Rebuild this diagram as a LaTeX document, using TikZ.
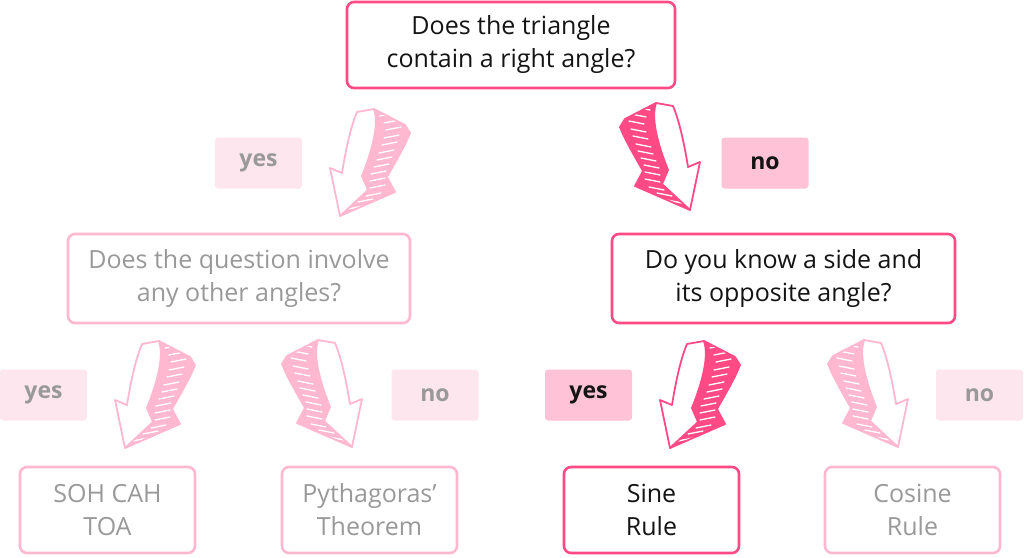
\documentclass[tikz,border=0pt]{standalone}
\usepackage{fontspec}
\setmainfont{Open Sans}
\definecolor{strongpink}{HTML}{FF4A85}
\definecolor{softpink}{HTML}{FFB8CF}
\definecolor{tagpink}{HTML}{FFC2D6}
\definecolor{palepink}{HTML}{FEE6EE}
\definecolor{greytext}{HTML}{999999}
\definecolor{darktext}{HTML}{141414}
\tikzset{
  qbox/.style={draw=strongpink, line width=2.6pt, rounded corners=7pt, fill=white, align=center, text=darktext, font=\fontsize{25}{33}\selectfont},
  qboxsoft/.style={qbox, draw=softpink, text=greytext},
  tagbox/.style={fill=tagpink, rounded corners=3pt, minimum width=87pt, minimum height=51pt, text=darktext, font=\fontsize{23}{26}\selectfont\bfseries},
  tagsoft/.style={tagbox, fill=palepink, text=greytext},
  pics/bigarrow/.style={code={
    \fill[#1] (0,0) -- (55,-24) -- (47,-39) .. controls (56,-55) and (65,-70) .. (70,-83) -- (65,-91) -- (34,-107) .. controls (40,-90) and (30,-60) .. (22,-40) -- (28,-26) -- cycle;
    \begin{scope}
      \clip (0,0) -- (55,-24) -- (47,-39) .. controls (56,-55) and (65,-70) .. (70,-83) -- (65,-91) -- (34,-107) .. controls (40,-90) and (30,-60) .. (22,-40) -- (28,-26) -- cycle;
      \foreach \x/\y in {40/-100, 44/-93, 46/-86, 44/-78, 42/-71, 39/-63, 37/-56, 34/-49, 31/-42, 30/-35, 30/-28, 26/-20, 18/-14, 8/-7}
        \draw[white, line width=1.3pt, line cap=round] (\x,\y) -- ++(15,-3);
    \end{scope}
    \draw[#1, line width=1.8pt, line join=round] (0,0) -- (55,-24) -- (47,-39) .. controls (56,-55) and (65,-70) .. (70,-83) -- (65,-91) -- (34,-107);
    \draw[#1, line width=1.8pt, line join=round, fill=white] (0,0) -- (-10,-48) -- (2,-43) .. controls (6,-68) and (11,-90) .. (17,-104) -- (34,-107) .. controls (40,-90) and (30,-60) .. (22,-40) -- (28,-26) -- cycle;
  }}
}
\begin{document}
\begin{tikzpicture}[x=1pt,y=-1pt]
\useasboundingbox (0,0) rectangle (1024,557);
\node[qbox, minimum width=328pt, minimum height=86pt] (q1) at (511,45) {Does the triangle\\contain a right angle?};
\node[qboxsoft, minimum width=342pt, minimum height=89pt] (q2) at (239,278.5) {Does the question involve\\any other angles?};
\node[qbox, minimum width=343pt, minimum height=89pt] (q3) at (783.5,278.5) {Do you know a side and\\its opposite angle?};
\node[qboxsoft, minimum width=175pt, minimum height=86pt] (r1) at (107.5,510) {SOH CAH\\TOA};
\node[qboxsoft, minimum width=175pt, minimum height=86pt] (r2) at (369.5,510) {Pythagoras'\\Theorem};
\node[qbox, minimum width=175pt, minimum height=86pt] (r3) at (651.5,510) {Sine\\Rule};
\node[qboxsoft, minimum width=175pt, minimum height=86pt] (r4) at (912.5,510) {Cosine\\Rule};
\node[tagsoft] (t1) at (258.5,163) {yes};
\node[tagbox] (t2) at (765,163) {no};
\node[tagsoft] (t3) at (43.5,395) {yes};
\node[tagsoft] (t4) at (435,395) {no};
\node[tagbox] (t5) at (588.5,395) {yes};
\node[tagsoft] (t6) at (979.5,395) {no};
\pic at (340,216) {bigarrow=softpink};
\pic[xscale=-1] at (690,210) {bigarrow=strongpink};
\pic at (125,448) {bigarrow=softpink};
\pic[xscale=-1] at (352,447) {bigarrow=softpink};
\pic at (670,448) {bigarrow=strongpink};
\pic[xscale=-1] at (898,447) {bigarrow=softpink};
\end{tikzpicture}
\end{document}
